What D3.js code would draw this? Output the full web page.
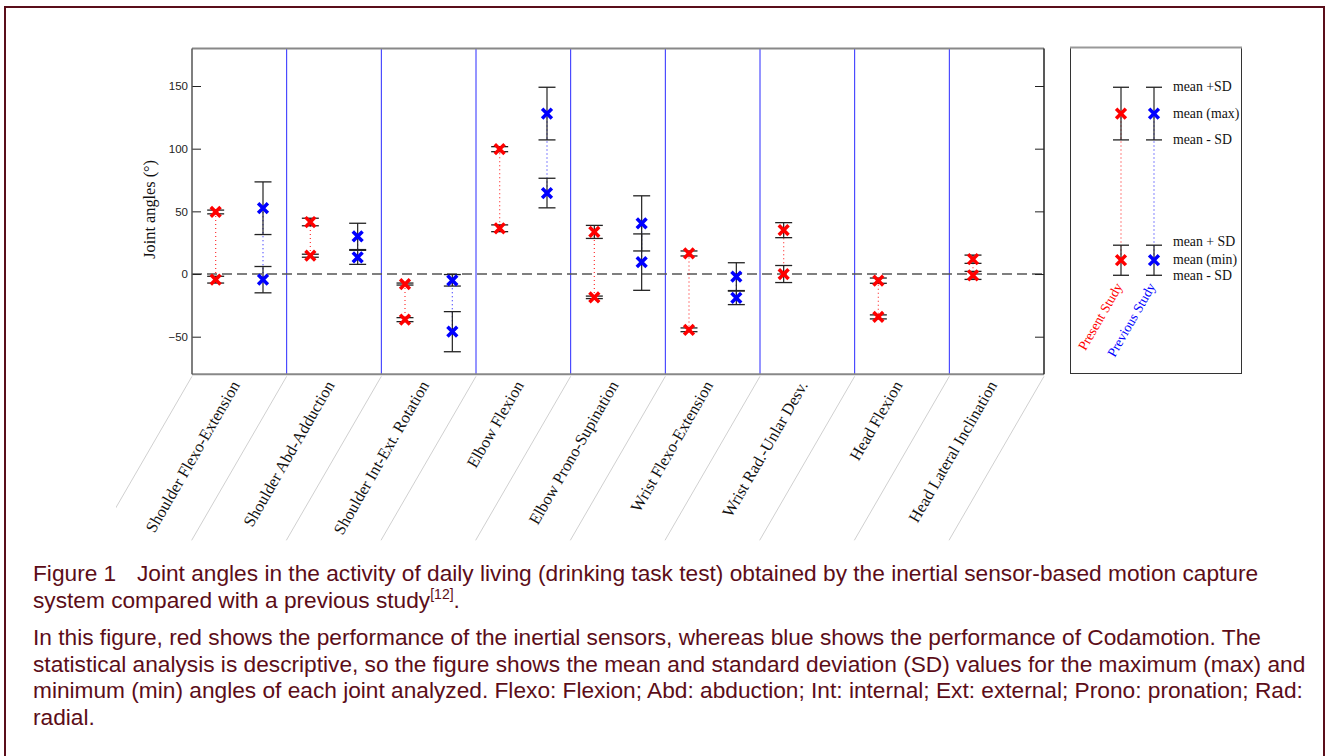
<!DOCTYPE html>
<html><head><meta charset="utf-8">
<script src="https://cdn.jsdelivr.net/npm/d3@7"></script>
<style>body{margin:0;background:#fff}svg{display:block}</style>
</head><body>
<svg id="chart" width="1328" height="756"></svg>
<script>
// ---------------- DATA ----------------
const categories = ["Shoulder Flexo-Extension","Shoulder Abd-Adduction","Shoulder Int-Ext. Rotation","Elbow Flexion","Elbow Prono-Supination","Wrist Flexo-Extension","Wrist Rad.-Unlar Desv.","Head Flexion","Head Lateral Inclination"];
// Present study (red)
const presentMaxMean = [49.5, 41.5, -8, 99.6, 33.6, 16.4, 35, -5.3, 11.8];
const presentMaxSD   = [1.5, 3, 0.8, 2, 5.2, 2, 6, 2.1, 3.3];
const presentMinMean = [-4.5, 14.6, -36.4, 36.5, -18.6, -44.5, 0, -34.2, -1.1];
const presentMinSD   = [2.7, 1.2, 1.6, 2.7, 1, 1.5, 6.8, 1.6, 3.2];
// Previous study (blue) – no data for the last three joints
const previousMaxMean = [52.5, 30, -5, 128, 40.4, -2.1, null, null, null];
const previousMaxSD   = [21, 10.5, 4.6, 21, 22, 11.1, null, null, null];
const previousMinMean = [-4.5, 13.3, -46, 64.6, 9.5, -19, null, null, null];
const previousMinSD   = [10.5, 5.6, 16, 11.8, 22.5, 5.4, null, null, null];
const yTicks = [-50, 0, 50, 100, 150];
const yDomain = [-80, 180];
const seriesNames = ["Present Study", "Previous Study"];
const seriesColors = ["#ff0000", "#0000ff"];
const legendMax = {mean: 128, sd: 21};
const legendMin = {mean: 11, sd: 12};
const legendLabels = [["mean +SD", "mean (max)", "mean - SD"], ["mean + SD", "mean (min)", "mean - SD"]];
const yLabel = "Joint angles (\u00B0)";
const captionLine1a = "Figure 1";
const captionLine1b = "Joint angles in the activity of daily living (drinking task test) obtained by the inertial sensor-based motion capture";
const captionLine2 = "system compared with a previous study";
const captionRef = "[12]";
const captionPara2 = [
  "In this figure, red shows the performance of the inertial sensors, whereas blue shows the performance of Codamotion. The",
  "statistical analysis is descriptive, so the figure shows the mean and standard deviation (SD) values for the maximum (max) and",
  "minimum (min) angles of each joint analyzed. Flexo: Flexion; Abd: abduction; Int: internal; Ext: external; Prono: pronation; Rad:",
  "radial."
];

// ---------------- BUILD ----------------
const svg = d3.select("#chart");
const W = 1328, H = 756;
const plot = {left: 192, right: 1044, top: 48.4, bottom: 374.3};

const x = d3.scaleBand().domain(categories).range([plot.left, plot.right]).padding(0);
const bw = x.bandwidth();
const sub = d3.scalePoint().domain(seriesNames).range([0, bw]).padding(0.5);
const y = d3.scaleLinear().domain(yDomain).range([plot.bottom, plot.top]);
const color = d3.scaleOrdinal().domain(seriesNames).range(seriesColors);

// outer frame
const frameColor = "#5a0e1a";
svg.append("path")
  .attr("d", `M5,${H+2} L5,7 L1324,7 L1324,${H+2}`)
  .attr("fill", "none").attr("stroke", frameColor).attr("stroke-width", 2);

// records
const sets = [
  {name: seriesNames[0], maxM: presentMaxMean, maxS: presentMaxSD, minM: presentMinMean, minS: presentMinSD},
  {name: seriesNames[1], maxM: previousMaxMean, maxS: previousMaxSD, minM: previousMinMean, minS: previousMinSD}
];
const recs = [];
sets.forEach(s => categories.forEach((c, i) => {
  if (s.maxM[i] == null) return;
  recs.push({cat: c, series: s.name, maxMean: s.maxM[i], maxSD: s.maxS[i], minMean: s.minM[i], minSD: s.minS[i]});
}));
const cx = d => x(d.cat) + sub(d.series);

// separators
const g = svg.append("g");
g.selectAll("line.sep").data(categories.slice(1)).join("line")
  .attr("x1", d => x(d)).attr("x2", d => x(d))
  .attr("y1", plot.top).attr("y2", plot.bottom)
  .attr("stroke", "#2a2aff").attr("stroke-width", 1);

// zero line
g.append("line").attr("x1", plot.left).attr("x2", plot.right)
  .attr("y1", y(0)).attr("y2", y(0))
  .attr("stroke", "#555").attr("stroke-width", 1.5).attr("stroke-dasharray", "10,5");

// y axis left
const axL = g.append("g").attr("transform", `translate(${plot.left},0)`)
  .call(d3.axisLeft(y).tickValues(yTicks).tickSize(-9).tickPadding(4));
axL.select(".domain").remove();
axL.selectAll(".tick line").attr("stroke", "#222");
axL.selectAll(".tick text").attr("font-family", "Liberation Sans, Arial, sans-serif").attr("font-size", 11.5).attr("fill", "#222");
const axR = g.append("g").attr("transform", `translate(${plot.right},0)`)
  .call(d3.axisRight(y).tickValues(yTicks).tickSize(-9).tickFormat(""));
axR.select(".domain").remove();
axR.selectAll(".tick line").attr("stroke", "#222");

// frame of plot
g.append("line").attr("x1", plot.left).attr("x2", plot.right).attr("y1", plot.top).attr("y2", plot.top).attr("stroke", "#888").attr("stroke-width", 2);
g.append("line").attr("x1", plot.left).attr("x2", plot.right).attr("y1", plot.bottom).attr("y2", plot.bottom).attr("stroke", "#888").attr("stroke-width", 2);
g.append("line").attr("x1", plot.left).attr("x2", plot.left).attr("y1", plot.top).attr("y2", plot.bottom).attr("stroke", "#555").attr("stroke-width", 1.5);
g.append("line").attr("x1", plot.right).attr("x2", plot.right).attr("y1", plot.top).attr("y2", plot.bottom).attr("stroke", "#222").attr("stroke-width", 1.5);

// y label
g.append("text").attr("transform", `translate(155,${(plot.top + plot.bottom) / 2 - 2}) rotate(-90)`)
  .attr("text-anchor", "middle").attr("font-family", "Liberation Serif, Times New Roman, serif")
  .attr("font-size", 16.3).attr("fill", "#111").text(yLabel);

// function to draw error-bar group
function drawSeries(sel, data, xf, capW) {
  sel.selectAll("line.conn").data(data).join("line")
    .attr("x1", xf).attr("x2", xf)
    .attr("y1", d => y(d.maxMean)).attr("y2", d => y(d.minMean))
    .attr("stroke", d => color(d.series)).attr("stroke-width", 1.2)
    .attr("stroke-dasharray", "1,3").attr("opacity", 0.8);
  const bars = [];
  data.forEach(d => { bars.push({d, m: d.maxMean, s: d.maxSD}); bars.push({d, m: d.minMean, s: d.minSD}); });
  sel.selectAll("line.eb").data(bars).join("line")
    .attr("x1", b => xf(b.d)).attr("x2", b => xf(b.d))
    .attr("y1", b => y(b.m + b.s)).attr("y2", b => y(b.m - b.s))
    .attr("stroke", "#222").attr("stroke-width", 1.2);
  const caps = [];
  bars.forEach(b => { caps.push({d: b.d, v: b.m + b.s}); caps.push({d: b.d, v: b.m - b.s}); });
  sel.selectAll("line.cap").data(caps).join("line")
    .attr("x1", c => xf(c.d) - capW / 2).attr("x2", c => xf(c.d) + capW / 2)
    .attr("y1", c => y(c.v)).attr("y2", c => y(c.v))
    .attr("stroke", "#222").attr("stroke-width", 1.3);
  const pts = [];
  data.forEach(d => { pts.push({d, v: d.maxMean}); pts.push({d, v: d.minMean}); });
  sel.selectAll("path.mk").data(pts).join("path")
    .attr("transform", p => `translate(${xf(p.d)},${y(p.v)})`)
    .attr("d", d3.symbol().type(d3.symbolX).size(64))
    .attr("fill", "none").attr("stroke", p => color(p.d.series)).attr("stroke-width", 3.5);
}
drawSeries(svg.append("g"), recs, cx, 17);

// category labels
const labG = svg.append("g");
labG.selectAll("text").data(categories).join("text")
  .attr("transform", d => `translate(${x(d) + bw / 2 + 1},385) rotate(-60)`)
  .attr("text-anchor", "end").attr("font-family", "Liberation Serif, Times New Roman, serif")
  .attr("font-size", 16.4).attr("fill", "#111").text(d => d);

// diagonal guides
svg.append("clipPath").attr("id", "clipDiag").append("rect").attr("x", 116).attr("y", 370).attr("width", 1000).attr("height", 200);
svg.append("g").attr("clip-path", "url(#clipDiag)")
  .selectAll("line").data(d3.range(categories.length + 1)).join("line")
  .attr("x1", i => plot.left + i * bw).attr("y1", plot.bottom + 2)
  .attr("x2", i => plot.left + i * bw - 95).attr("y2", plot.bottom + 2 + 164)
  .attr("stroke", "#d0d0d0").attr("stroke-width", 1);

// legend
const lg = svg.append("g");
lg.append("rect").attr("x", 1070.5).attr("y", 47.5).attr("width", 171).attr("height", 326)
  .attr("fill", "none").attr("stroke", "#333").attr("stroke-width", 1);
lg.append("line").attr("x1", 1070).attr("x2", 1242).attr("y1", 47.5).attr("y2", 47.5).attr("stroke", "#999").attr("stroke-width", 2);
const lx = d3.scalePoint().domain(seriesNames).range([1121, 1154]);
const legRecs = seriesNames.map(s => ({cat: s, series: s, maxMean: legendMax.mean, maxSD: legendMax.sd, minMean: legendMin.mean, minSD: legendMin.sd}));
drawSeries(lg.append("g"), legRecs, d => lx(d.series), 16);
lg.selectAll("text.sname").data(seriesNames).join("text")
  .attr("transform", d => `translate(${lx(d) + 2},${y(legendMin.mean - legendMin.sd) + 11}) rotate(-60)`)
  .attr("text-anchor", "end").attr("font-family", "Liberation Serif, Times New Roman, serif")
  .attr("font-size", 13.6).attr("fill", d => color(d)).text(d => d);
const legVals = [[legendMax.mean + legendMax.sd, legendMax.mean, legendMax.mean - legendMax.sd],
                 [legendMin.mean + legendMin.sd, legendMin.mean, legendMin.mean - legendMin.sd]];
const legTxt = [];
legendLabels.forEach((arr, i) => arr.forEach((t, j) => legTxt.push({t, v: legVals[i][j], shift: (i === 1 && j === 0) ? -3.5 : (i === 1 && j === 2 ? 1 : 0)})));
lg.selectAll("text.ll").data(legTxt).join("text")
  .attr("x", 1173).attr("y", d => y(d.v) + d.shift).attr("dy", "0.3em")
  .attr("font-family", "Liberation Serif, Times New Roman, serif")
  .attr("font-size", 13.8).attr("fill", "#111").text(d => d.t);

// caption
const cap = svg.append("g").attr("font-family", "Liberation Sans, Arial, sans-serif")
  .attr("font-size", 22.7).attr("fill", "#5c0d18");
const t1 = cap.append("text").attr("x", 33).attr("y", 581);
t1.append("tspan").text(captionLine1a);
t1.append("tspan").attr("x", 137).text(captionLine1b);
const t2 = cap.append("text").attr("x", 33).attr("y", 608);
t2.append("tspan").text(captionLine2);
t2.append("tspan").attr("font-size", 14).attr("dy", -9).text(captionRef);
t2.append("tspan").attr("dy", 9).text(".");
cap.selectAll("text.p2").data(captionPara2).join("text")
  .attr("x", 33).attr("y", (d, i) => 645 + i * 26.6).text(d => d);
</script>
</body></html>
